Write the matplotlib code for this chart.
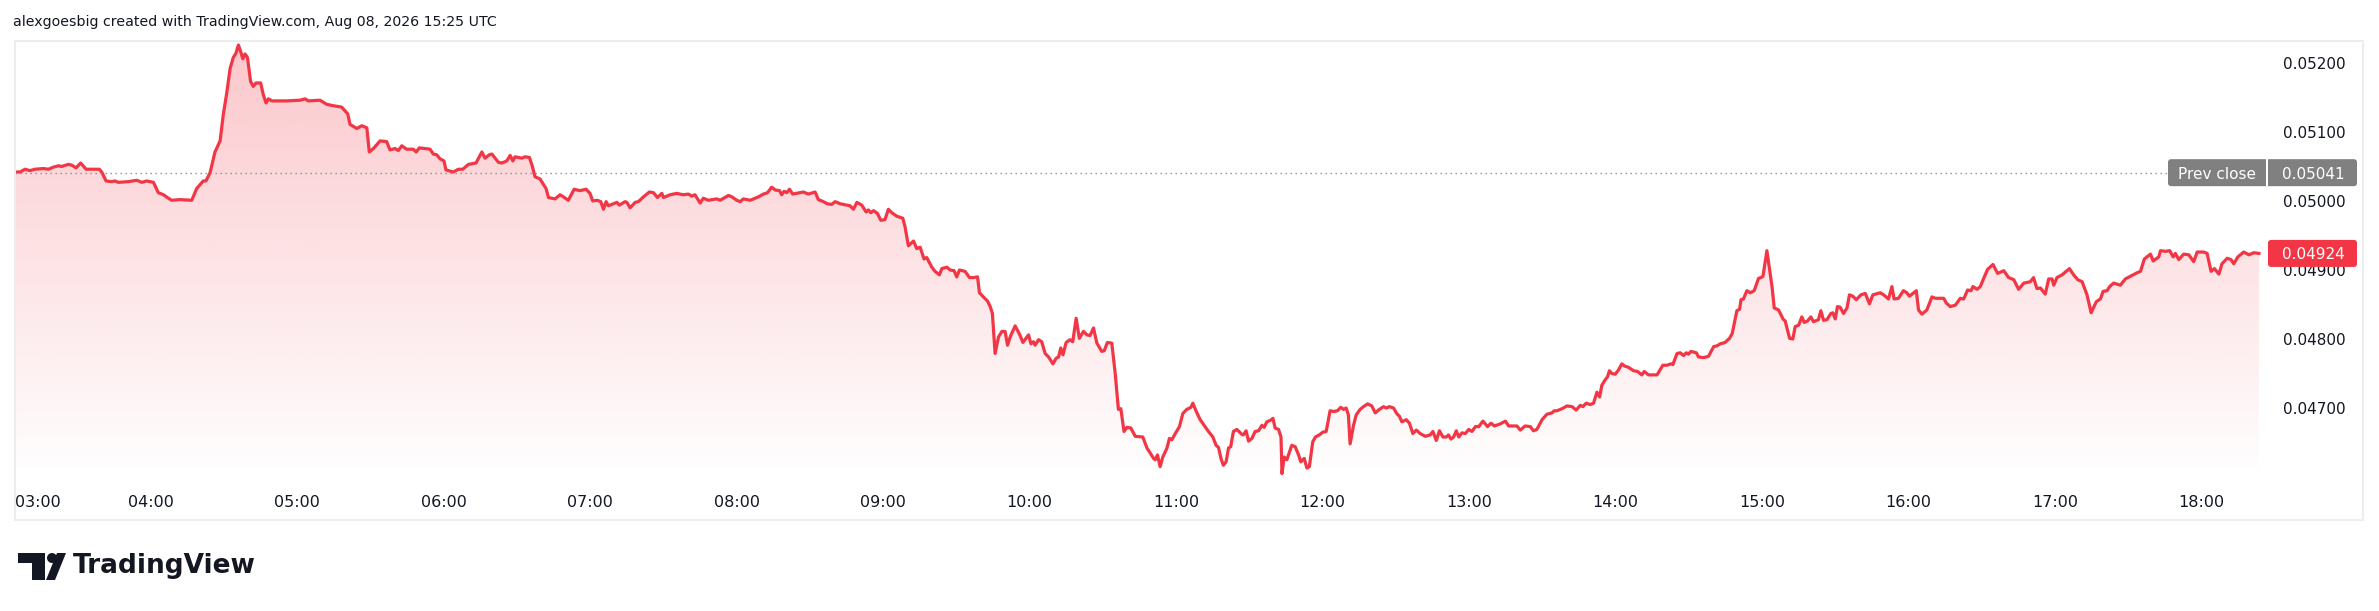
import numpy as np
import matplotlib.pyplot as plt
from matplotlib.patches import Rectangle, FancyBboxPatch, PathPatch, Circle, Polygon
from matplotlib.transforms import IdentityTransform

W, H, DPI = 2379, 611, 100

# minutes after 03:00 UTC and price (in units of 0.00001)
minutes = [
    4.5, 6.6, 8.6, 10.6, 12.7, 16.1, 18.2, 20.2, 22.3, 23.6, 26.3, 27.7, 29.5, 31.4, 33.6, 39.0, 40.0,
    41.8, 44.1, 45.5, 46.8, 50.9, 54.4, 56.4, 58.4, 61.2, 63.2, 65.3, 67.3, 68.7, 72.1, 76.9, 78.9,
    81.6, 82.7, 84.4, 86.4, 88.5, 89.8, 91.2, 92.6, 93.9, 95.0, 96.0, 96.7, 97.8, 98.7, 99.7, 101.0,
    102.1, 103.2, 105.1, 106.2, 107.3, 108.3, 109.7, 115.8, 121.2, 123.3, 124.6, 129.4, 132.2, 134.9,
    138.3, 140.8, 141.7, 144.5, 146.5, 148.6, 149.6, 151.3,
    154.0, 156.7, 158.1, 160.2, 161.5, 162.9, 164.9, 167.6, 168.8, 170.1, 174.5, 175.8, 177.2, 178.6,
    180.2, 181.0, 184.0, 186.1, 187.9, 190.2, 193.3, 195.7, 197.0, 198.8, 199.8, 202.5, 203.9, 205.9,
    207.3, 208.4, 209.3, 212.1, 213.4, 215.2, 216.4, 217.5, 219.5, 222.0, 223.0, 225.7, 227.7, 229.1,
    231.1, 233.5, 235.9, 238.4, 240.0, 241.1, 243.0, 244.4, 245.5, 246.6, 247.5, 251.0, 252.0, 254.4,
    255.1, 256.4, 258.5, 259.8, 261.9, 264.3, 266.0, 267.6, 269.4, 270.1, 272.8, 275.5, 278.2, 280.3,
    281.7, 283.0, 285.1, 286.4, 288.5, 291.9, 293.3, 296.7, 298.1, 300.1, 301.5, 302.8, 305.6,
    309.0, 311.0, 312.7, 314.4, 315.8, 317.6, 318.5, 319.5, 320.6, 321.7, 323.0, 327.4, 329.4, 332.2,
    333.5, 335.6, 337.2, 339.0, 340.4, 342.4, 345.2, 346.5, 347.9, 349.3, 351.3, 353.1, 354.0, 355.0,
    356.1, 357.7, 359.1, 360.8, 362.2, 363.6, 365.6, 368.1, 369.0, 370.4, 372.5, 373.8, 375.2, 376.8,
    377.9, 380.0, 381.3, 383.1, 384.1, 386.1, 387.5, 389.1, 390.2, 391.3, 393.6, 395.4, 397.0, 398.7,
    399.5, 401.1, 402.8, 403.9, 404.8, 405.9, 407.3, 408.7, 410.0, 411.0, 412.1, 414.1, 415.9, 417.3,
    419.6, 420.6, 421.6, 422.3, 423.7, 425.0, 426.4, 427.8, 429.6, 430.9, 431.9, 432.8, 433.7, 435.0,
    436.6, 437.7, 439.1, 440.4, 442.1, 443.5, 444.8, 446.2, 447.6, 449.6, 450.6, 451.9, 453.7, 455.1,
    456.4, 457.4, 458.7, 459.9, 461.5, 463.3,
    466.4, 468.1, 469.4, 470.8, 471.5, 472.4, 473.5, 474.6, 476.3, 477.3, 478.3, 479.7, 481.4, 482.8,
    484.4, 486.1, 486.9, 488.3, 489.9, 491.5, 493.3, 495.1, 496.4, 497.4, 498.4, 499.4, 500.5, 501.5,
    502.4, 503.5, 504.9, 506.9, 507.6, 508.7, 509.7, 511.1, 512.4, 513.8, 515.2, 516.1, 517.2, 518.6,
    519.7, 520.6, 522.0, 523.0, 523.4, 524.3, 525.4, 527.4, 528.8, 530.2, 531.1, 532.5, 533.6, 534.6,
    536.0, 537.1, 538.7, 540.1, 541.5, 543.1, 544.7, 546.1, 547.5, 548.6, 549.7, 550.6, 551.3, 552.7,
    553.8, 555.4, 556.8, 558.5, 560.2, 561.6, 563.3, 565.0, 566.1, 567.4, 569.1, 570.4, 571.5, 572.5,
    574.3, 575.6, 577.0, 578.4, 580.0, 582.1, 584.1, 585.2, 586.6, 587.9, 589.3, 590.7, 591.6, 592.6,
    593.7, 594.8, 595.8, 597.1, 598.5, 599.9, 601.2, 602.6, 604.0, 605.7, 607.6, 609.0, 610.4, 612.8,
    614.9, 616.2, 619.6,
    621.0, 623.0, 625.1, 626.4, 627.8, 629.9, 631.9, 634.0, 634.9, 636.0, 638.1, 640.1, 642.2, 643.9,
    645.6, 646.6, 648.0, 649.6, 651.0, 652.4, 653.5, 654.4, 655.8, 656.7, 657.5, 658.5, 659.9, 661.2,
    662.6, 663.6, 665.3, 667.4, 669.0, 670.8, 671.8, 673.5, 677.0, 679.4, 681.1, 682.7, 683.5, 685.2,
    686.5, 687.9, 689.0, 689.9, 690.9, 693.1, 694.0, 696.1, 698.1, 700.2, 701.5, 702.9, 704.9, 706.7,
    707.8, 709.7, 710.8, 711.4, 712.4, 713.8, 715.2, 716.8, 718.6, 719.6, 720.4, 722.0, 724.1, 725.0,
    726.8, 728.6, 729.5, 731.3, 732.6, 733.6, 735.0, 736.3, 737.3, 738.6, 740.0, 741.1, 743.1, 744.1,
    745.2, 746.6, 748.2, 749.0, 750.0, 750.9, 752.0, 753.4, 754.8, 755.8, 757.2, 758.6, 760.5, 762.3,
    764.0, 765.4, 768.4, 769.8,
    771.8, 773.2, 774.1, 775.9, 777.9, 779.3, 780.4, 783.2, 784.1, 785.5, 787.5, 789.6, 791.0, 794.4,
    795.5, 797.1, 799.2, 801.2, 802.6, 804.2, 805.6, 806.4, 808.1, 809.4, 810.8, 812.4, 814.6, 816.5,
    819.0, 821.0, 823.1, 825.1, 827.2, 829.9, 831.2, 832.6, 834.0, 836.0, 837.4, 838.8, 839.5, 840.8,
    842.9, 845.9, 847.6, 849.3, 851.1, 853.1, 854.8, 856.9, 858.6, 859.7, 861.3, 862.4, 864.0, 866.8,
    868.8, 870.9, 873.6, 875.0, 876.6, 879.1, 880.2, 882.5, 883.2, 885.2, 887.0, 888.4, 889.3, 890.7,
    892.7, 894.8, 896.8, 898.2, 900.9, 902.3, 903.9, 905.3, 907.1, 908.4, 910.5, 912.1, 913.2, 914.9,
    917.3, 919.4, 921.4, 923.5,
]
price_e5 = [
    5042, 5042, 5046, 5044, 5046, 5047, 5046, 5049, 5051, 5050, 5053, 5052, 5048, 5055, 5046, 5046, 5042,
    5029, 5028, 5029, 5027, 5028, 5030, 5027, 5029, 5027, 5012, 5009, 5004, 5001, 5002, 5001, 5018,
    5029, 5029, 5041, 5071, 5087, 5125, 5156, 5192, 5208, 5214, 5226, 5219, 5206, 5213, 5208, 5173,
    5166, 5171, 5171, 5154, 5142, 5148, 5145, 5145, 5146, 5148, 5145, 5146, 5140, 5138,
    5136, 5126, 5111, 5105, 5109, 5106, 5071, 5076,
    5087, 5086, 5074, 5076, 5073, 5080, 5075, 5075, 5071, 5077, 5075, 5068, 5067, 5061,
    5058, 5045, 5042, 5046, 5046, 5053, 5055, 5071, 5062, 5067, 5068, 5056, 5055, 5058,
    5066, 5058, 5064, 5062, 5064, 5063, 5050, 5035, 5032, 5018, 5005, 5003, 5009, 5006,
    5001, 5017, 5015, 5017, 5011, 5000, 5001, 4999, 4988, 4999, 4993, 4998, 4994, 4999,
    4998, 4990, 4998, 4999, 5006, 5013, 5012, 5005, 5011, 5005, 5009, 5011, 5009, 5010,
    5007, 5009, 4997, 5004, 5001, 5003, 5001, 5008, 5006, 5001, 4999, 5003, 5001,
    5006, 5010, 5012, 5020, 5016, 5015, 5009, 5014, 5012, 5017, 5010, 5013, 5010, 5013,
    5002, 4999, 4996, 4995, 4999, 4996, 4994, 4993, 4988, 4998, 4994, 4984, 4987, 4983,
    4986, 4982, 4972, 4973, 4988, 4983, 4978, 4975, 4963, 4935, 4942, 4931, 4933, 4916,
    4918, 4904, 4898, 4893, 4902, 4904, 4900, 4899, 4890, 4900, 4898, 4889, 4889, 4890,
    4867, 4861, 4855, 4847, 4837, 4779, 4803, 4811, 4811, 4791, 4803, 4819, 4807, 4795,
    4806, 4793, 4796, 4791, 4799, 4796, 4779, 4774, 4764, 4772, 4774, 4787, 4777, 4795,
    4799, 4796, 4830, 4801, 4811, 4806, 4805, 4816, 4794, 4782, 4783, 4795, 4794, 4750,
    4698, 4699, 4666, 4672, 4671, 4659,
    4658, 4642, 4635, 4627, 4625, 4632, 4615, 4629, 4642, 4656, 4654, 4663, 4673, 4692,
    4698, 4701, 4707, 4695, 4683, 4675, 4666, 4658, 4646, 4643, 4627, 4617, 4622, 4642,
    4644, 4666, 4669, 4662, 4661, 4667, 4652, 4656, 4666, 4667, 4675, 4672, 4680, 4682,
    4685, 4671, 4669, 4658, 4605, 4629, 4625, 4646, 4644, 4632, 4622, 4627, 4613, 4615,
    4651, 4658, 4661, 4665, 4666, 4696, 4695, 4696, 4701, 4698, 4700, 4690, 4648, 4675,
    4690, 4698, 4702, 4706, 4703, 4693, 4698, 4702, 4700, 4702, 4700, 4692, 4688, 4680,
    4683, 4678, 4663, 4668, 4663, 4659, 4661, 4666, 4653, 4667, 4658, 4658, 4661, 4655,
    4658, 4667, 4658, 4664, 4663, 4669, 4666, 4673, 4673, 4681, 4673, 4678, 4674, 4677,
    4681, 4674, 4674,
    4668, 4674, 4673, 4667, 4669, 4683, 4691, 4693, 4696, 4696, 4699, 4703, 4702, 4697,
    4704, 4702, 4707, 4705, 4707, 4723, 4716, 4733, 4741, 4745, 4754, 4750, 4749, 4755,
    4764, 4761, 4759, 4754, 4753, 4748, 4753, 4748, 4748, 4762, 4762, 4764, 4763, 4779,
    4780, 4776, 4780, 4778, 4782, 4780, 4774, 4773, 4775, 4789, 4790, 4793, 4795, 4801,
    4808, 4841, 4843, 4857, 4858, 4870, 4867, 4870, 4888, 4889, 4891, 4928, 4876, 4845,
    4842, 4829, 4826, 4801, 4800, 4818, 4820, 4832, 4824, 4826, 4832, 4825, 4828, 4841,
    4827, 4828, 4837, 4838, 4829, 4847, 4846, 4837, 4845, 4864, 4862, 4857, 4864, 4866,
    4851, 4864, 4867, 4864,
    4858, 4876, 4858, 4859, 4870, 4867, 4862, 4870, 4842, 4836, 4842, 4861, 4859, 4859,
    4852, 4847, 4849, 4859, 4858, 4871, 4870, 4876, 4872, 4876, 4888, 4901, 4908, 4895,
    4899, 4889, 4886, 4872, 4881, 4883, 4889, 4873, 4874, 4865, 4887, 4887, 4878, 4889,
    4893, 4902, 4893, 4886, 4883, 4864, 4838, 4854, 4858, 4869, 4870, 4876, 4881, 4878,
    4887, 4891, 4896, 4898, 4916, 4923, 4913, 4919, 4928, 4927, 4928, 4919, 4924, 4915,
    4923, 4922, 4912, 4926, 4926, 4924, 4898, 4902, 4894, 4909, 4917, 4915, 4909, 4919,
    4926, 4922, 4925, 4924,
]
prev_close = 0.05041
price_ticks = [0.047, 0.048, 0.049, 0.050, 0.051, 0.052]
hour_ticks = [60 * h for h in range(1, 16)]
hour_labels = ['%02d:00' % h for h in range(4, 19)]

RED = '#F23645'
TXT = '#131722'

t = np.array(minutes)
p = np.array(price_e5) / 1e5
last_price = p[-1]

plt.rcParams['font.family'] = ['DejaVu Sans']
fig = plt.figure(figsize=(W / DPI, H / DPI), dpi=DPI, facecolor='white')

# pane: pixel box left 15, right 2265, top 41, bottom 480
ax = fig.add_axes([15 / W, 1 - 480 / H, 2250 / W, 439 / H])
y0, y1 = 0.045957, 0.052318
x0, x1 = 4.5, 926.0

# gradient area under the line
grad = np.zeros((256, 1, 4))
grad[..., :3] = plt.matplotlib.colors.to_rgb(RED)
grad[..., 3] = np.linspace(0.28, 0.0, 256)[:, None]
im = ax.imshow(grad, extent=[t[0], t[-1], y0, y1], origin='upper', aspect='auto', zorder=1)
area = ax.fill_between(t, p, y0, color='none', lw=0)
clip = PathPatch(area.get_paths()[0], transform=ax.transData, fc='none', ec='none')
ax.add_patch(clip)
im.set_clip_path(clip)

ax.plot(t, p, color=RED, lw=2.3, zorder=3, solid_joinstyle='round')
ax.axhline(prev_close, color='#8a8d96', lw=1.0, ls=(0, (1, 2.6)), zorder=4)

ax.set_xlim(x0, x1)
ax.set_ylim(y0, y1)
for s in ax.spines.values():
    s.set_visible(False)
ax.set_facecolor('none')

ax.yaxis.tick_right()
ax.set_yticks(price_ticks)
ax.set_yticklabels(['%.5f' % v for v in price_ticks])
ax.tick_params(axis='y', length=0, pad=13, labelsize=11, labelcolor=TXT)

ax.set_xticks([x0] + hour_ticks)
ax.set_xticklabels(['03:00'] + hour_labels)
ax.tick_params(axis='x', length=0, pad=11, labelsize=11.5, labelcolor=TXT)
ax.get_xticklabels()[0].set_ha('left')

# price labels on the scale (display pixels, origin bottom-left)
ident = IdentityTransform()
yp = ax.transData.transform((x0, prev_close))[1]
yl = ax.transData.transform((x0, last_price))[1]

box = FancyBboxPatch((2168, yp - 13.5), 189, 27, boxstyle='round,pad=0,rounding_size=3',
                     fc='#808080', ec='none', transform=ident, zorder=6)
fig.add_artist(box)
fig.add_artist(Rectangle((2266, yp - 13.5), 1.5, 27, fc='white', ec='none', transform=ident, zorder=7))
fig.text(2217, yp, 'Prev close', color='white', fontsize=11, ha='center', va='center_baseline',
         transform=ident, zorder=8)
fig.text(2313, yp, '%.5f' % prev_close, color='white', fontsize=11, ha='center', va='center_baseline',
         transform=ident, zorder=8)

fig.add_artist(FancyBboxPatch((2268, yl - 13.5), 89, 27, boxstyle='round,pad=0,rounding_size=3',
                              fc=RED, ec='none', transform=ident, zorder=6))
fig.text(2313, yl, '%.5f' % last_price, color='white', fontsize=11, ha='center', va='center_baseline',
         transform=ident, zorder=8)

# outer frame
fig.add_artist(Rectangle((15, H - 520), 2348, 479, fc='none', ec='#ededed', lw=1.5, transform=ident))

# header
fig.text(13, H - 22, 'alexgoesbig created with TradingView.com, Aug 08, 2026 15:25 UTC',
         color=TXT, fontsize=10.2, ha='left', va='center', transform=ident)

# TradingView logo
lc = '#131722'
fig.add_artist(Rectangle((18, H - 563), 27, 10, fc=lc, ec='none', transform=ident))
fig.add_artist(Rectangle((32, H - 580), 13, 27, fc=lc, ec='none', transform=ident))
fig.add_artist(Circle((52, H - 558), 5, fc=lc, ec='none', transform=ident))
fig.add_artist(Polygon([(57, H - 553), (66, H - 553), (55, H - 580), (46, H - 580)], closed=True,
                       fc=lc, ec='none', transform=ident))
fig.text(73, H - 566, 'TradingView', color=lc, fontsize=19, fontweight='bold', ha='left',
         va='center', transform=ident)

fig.savefig('out.png', dpi=DPI, facecolor='white')
